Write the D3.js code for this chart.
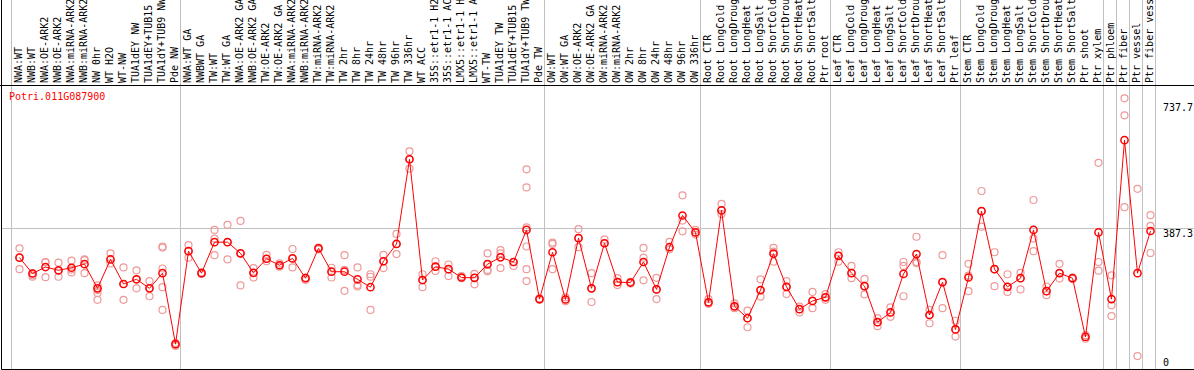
<!DOCTYPE html>
<html>
<head>
<meta charset="utf-8">
<script src="https://cdn.jsdelivr.net/npm/d3@7"></script>
<style>
    body { margin: 0; background: #fff; }
    text { font-family: "DejaVu Sans Mono", monospace; font-size: 10px; }
</style>
</head>
<body>
<div id="chart-area"></div>
<script>
const width = 1194;
const height = 370;

const geneId = "Potri.011G087900";

//Sample labels (shown cut to 14 chars)
const labels = [
    "NWA:WT", "NWB:WT", "NWA:OE-ARK2", "NWB:OE-ARK2", "NWA:miRNA-ARK2", "NWB:miRNA-ARK2",
    "NW 0hr", "WT H2O", "WT-NW", "TUA1dEY NW", "TUA1dEY+TUB15", "TUA1dY+TUB9 NW", "Pde NW",
    "NWA:WT GA", "NWBWT GA", "TW:WT", "TW:WT GA", "NWA:OE-ARK2 GA", "NWB:OE-ARK2 GA",
    "TW:OE-ARK2", "TW:OE-ARK2 GA", "NWA:miRNA-ARK2", "NWB:miRNA-ARK2", "TW:miRNA-ARK2",
    "TW:miRNA-ARK2", "TW 2hr", "TW 8hr", "TW 24hr", "TW 48hr", "TW 96hr", "TW 336hr",
    "WT ACC", "35S::etr1-1 H2", "35S::etr1-1 AC", "LMX5::etr1-1 H", "LMX5::etr1-1 A",
    "WT-TW", "TUA1dEY TW", "TUA1dEY+TUB15", "TUA1dY+TUB9 TW", "Pde TW",
    "OW:WT", "OW:WT GA", "OW:OE-ARK2", "OW:OE-ARK2 GA", "OW:miRNA-ARK2", "OW:miRNA-ARK2",
    "OW 2hr", "OW 8hr", "OW 24hr", "OW 48hr", "OW 96hr", "OW 336hr",
    "Root CTR", "Root LongCold", "Root LongDroug", "Root LongHeat", "Root LongSalt",
    "Root ShortCold", "Root ShortDrou", "Root ShortHeat", "Root ShortSalt", "Ptr root",
    "Leaf CTR", "Leaf LongCold", "Leaf LongDroug", "Leaf LongHeat", "Leaf LongSalt",
    "Leaf ShortCold", "Leaf ShortDrou", "Leaf ShortHeat", "Leaf ShortSalt", "Ptr leaf",
    "Stem CTR", "Stem LongCold", "Stem LongDroug", "Stem LongHeat", "Stem LongSalt",
    "Stem ShortCold", "Stem ShortDrou", "Stem ShortHeat", "Stem ShortSalt", "Ptr shoot",
    "Ptr xylem", "Ptr phloem", "Ptr fiber", "Ptr vessel", "Ptr fiber vess",
];

//Number of samples in each block between the grey separators
const groupSizes = [13, 28, 12, 10, 10, 11, 1, 1, 1, 1];

//Mean expression per sample
const means = [
    305, 261, 279, 270, 277, 287, 220, 300, 232, 245, 220, 262, 65,
    323, 262, 348, 348, 317, 263, 302, 284, 303, 248, 331, 266, 266, 245, 223, 295, 343,
    578, 243, 280, 273, 250, 249, 287, 306, 293, 382, 190,
    320, 189, 359, 220, 345, 237, 236, 293, 217, 334, 422, 375,
    181, 436, 170, 137, 215, 316, 224, 162, 185, 195,
    310, 262, 226, 126, 153, 260, 315, 146, 237, 106,
    250, 434, 273, 224, 248, 382, 212, 262, 248, 85, 375, 190, 631, 262, 379,
];

//Replicate values per sample
const replicates = [
    [331, 305, 273], [262, 256, 252], [293, 292, 251], [291, 268, 252], [297, 272, 264],
    [298, 300, 262], [228, 215, 207, 188], [317, 300, 289], [278, 232, 188], [270, 245, 220],
    [240, 220, 198], [336, 333, 275, 223, 160], [68, 64, 60],
    [340, 323, 305], [264, 260, 262], [382, 358, 312], [396, 348, 300], [407, 317, 228],
    [276, 263, 250], [313, 302, 295], [289, 284, 280], [329, 303, 278], [250, 248, 243],
    [333, 331, 328], [277, 266, 250], [312, 271, 213], [278, 229, 225], [259, 252, 160],
    [313, 295, 276], [371, 343, 315], [600, 578, 552], [259, 243, 223], [295, 280, 268],
    [286, 273, 254], [254, 250, 248], [260, 249, 231], [317, 287, 271, 267], [326, 317, 276],
    [293, 282], [550, 500, 389, 336, 273, 240], [192, 190, 188],
    [347, 343, 273], [195, 189, 184], [384, 359, 334], [262, 220, 182], [356, 345],
    [248, 237, 229], [238, 236, 233], [332, 305, 242], [249, 217, 190], [349, 328],
    [478, 408, 378], [382, 375, 369],
    [190, 181, 177], [454, 436, 426], [178, 170, 165], [158, 137, 112], [245, 215, 197],
    [332, 322, 294], [240, 224, 204], [169, 162, 153], [210, 185, 165], [204, 195, 188],
    [320, 310, 294], [282, 262, 248], [246, 226, 203], [137, 126, 115], [167, 153, 141],
    [293, 282, 198], [363, 293, 290], [160, 146, 123], [312, 237, 165], [130, 106, 86],
    [288, 255, 212], [490, 434, 391], [320, 273, 226], [259, 224, 210], [263, 248, 217],
    [465, 358, 323], [225, 212, 201], [288, 262, 247], [250, 248, 246], [90, 85, 80],
    [568, 293, 269], [256, 173, 143], [747, 700, 445], [496, 32], [423, 393, 318],
];

//Right side tick labels
const yTicks = [0, 387.3, 737.7];
const gridValue = 387.3;

const svg = d3
    .select("#chart-area")
    .append("svg")
    .attr("width", width)
    .attr("height", height);

//Scales
const xScale = d3
    .scalePoint()
    .domain(d3.range(labels.length))
    .range([19.5, 19.5 + 13 * (labels.length - 1)]);
const yScale = d3.scaleLinear().domain([0, 737.7]).range([367.6, 101.7]);

//Group separators
const groupStarts = d3.cumsum([0, ...groupSizes.slice(0, -1)]);
const sepX = [...groupStarts.map((i) => xScale(i) - 8), xScale(labels.length - 1) + 5];

svg.append("g")
    .selectAll("line")
    .data(sepX)
    .join("line")
    .attr("x1", (d) => Math.round(d - 0.5) + 0.5)
    .attr("x2", (d) => Math.round(d - 0.5) + 0.5)
    .attr("y1", 0)
    .attr("y2", 369)
    .attr("stroke", "#c0c0c0");

//Grid line
svg.append("line")
    .attr("x1", 1)
    .attr("x2", width)
    .attr("y1", Math.round(yScale(gridValue)) + 0.5)
    .attr("y2", Math.round(yScale(gridValue)) + 0.5)
    .attr("stroke", "#c0c0c0");

//Frame
svg.append("path")
    .attr("d", `M1.5,0V369.5H${width}M0,85.5H${width}`)
    .attr("fill", "none")
    .attr("stroke", "#000");

//Sample labels
svg.append("g")
    .selectAll("text")
    .data(labels)
    .join("text")
    .attr("transform", (d, i) => `translate(${xScale(i) + 2}, 83) rotate(-90)`)
    .attr("fill", "#000")
    .text((d) => d.slice(0, 14));

//Tick labels
svg.append("g")
    .selectAll("text")
    .data(yTicks)
    .join("text")
    .attr("x", 1163)
    .attr("y", (d) => Math.min(yScale(d) + 9, 365.5))
    .attr("fill", "#000")
    .text((d) => d);

//Gene id
svg.append("text")
    .attr("x", 9)
    .attr("y", 100)
    .attr("fill", "#ff0000")
    .text(geneId);

//Replicates
const repPoints = replicates.flatMap((vals, i) => vals.map((v) => ({ i, v })));
svg.append("g")
    .selectAll("circle")
    .data(repPoints)
    .join("circle")
    .attr("cx", (d) => xScale(d.i))
    .attr("cy", (d) => yScale(d.v))
    .attr("r", 3.5)
    .attr("fill", "none")
    .attr("stroke", "#ee9a9a")
    .attr("stroke-width", 1.2);

//Mean line
const line = d3
    .line()
    .x((d, i) => xScale(i))
    .y((d) => yScale(d));

svg.append("path")
    .datum(means)
    .attr("d", line)
    .attr("fill", "none")
    .attr("stroke", "#ff0000")
    .attr("stroke-width", 1);

svg.append("g")
    .selectAll("circle")
    .data(means)
    .join("circle")
    .attr("cx", (d, i) => xScale(i))
    .attr("cy", (d) => yScale(d))
    .attr("r", 3.6)
    .attr("fill", "none")
    .attr("stroke", "#ff0000")
    .attr("stroke-width", 1.5);
</script>
</body>
</html>
